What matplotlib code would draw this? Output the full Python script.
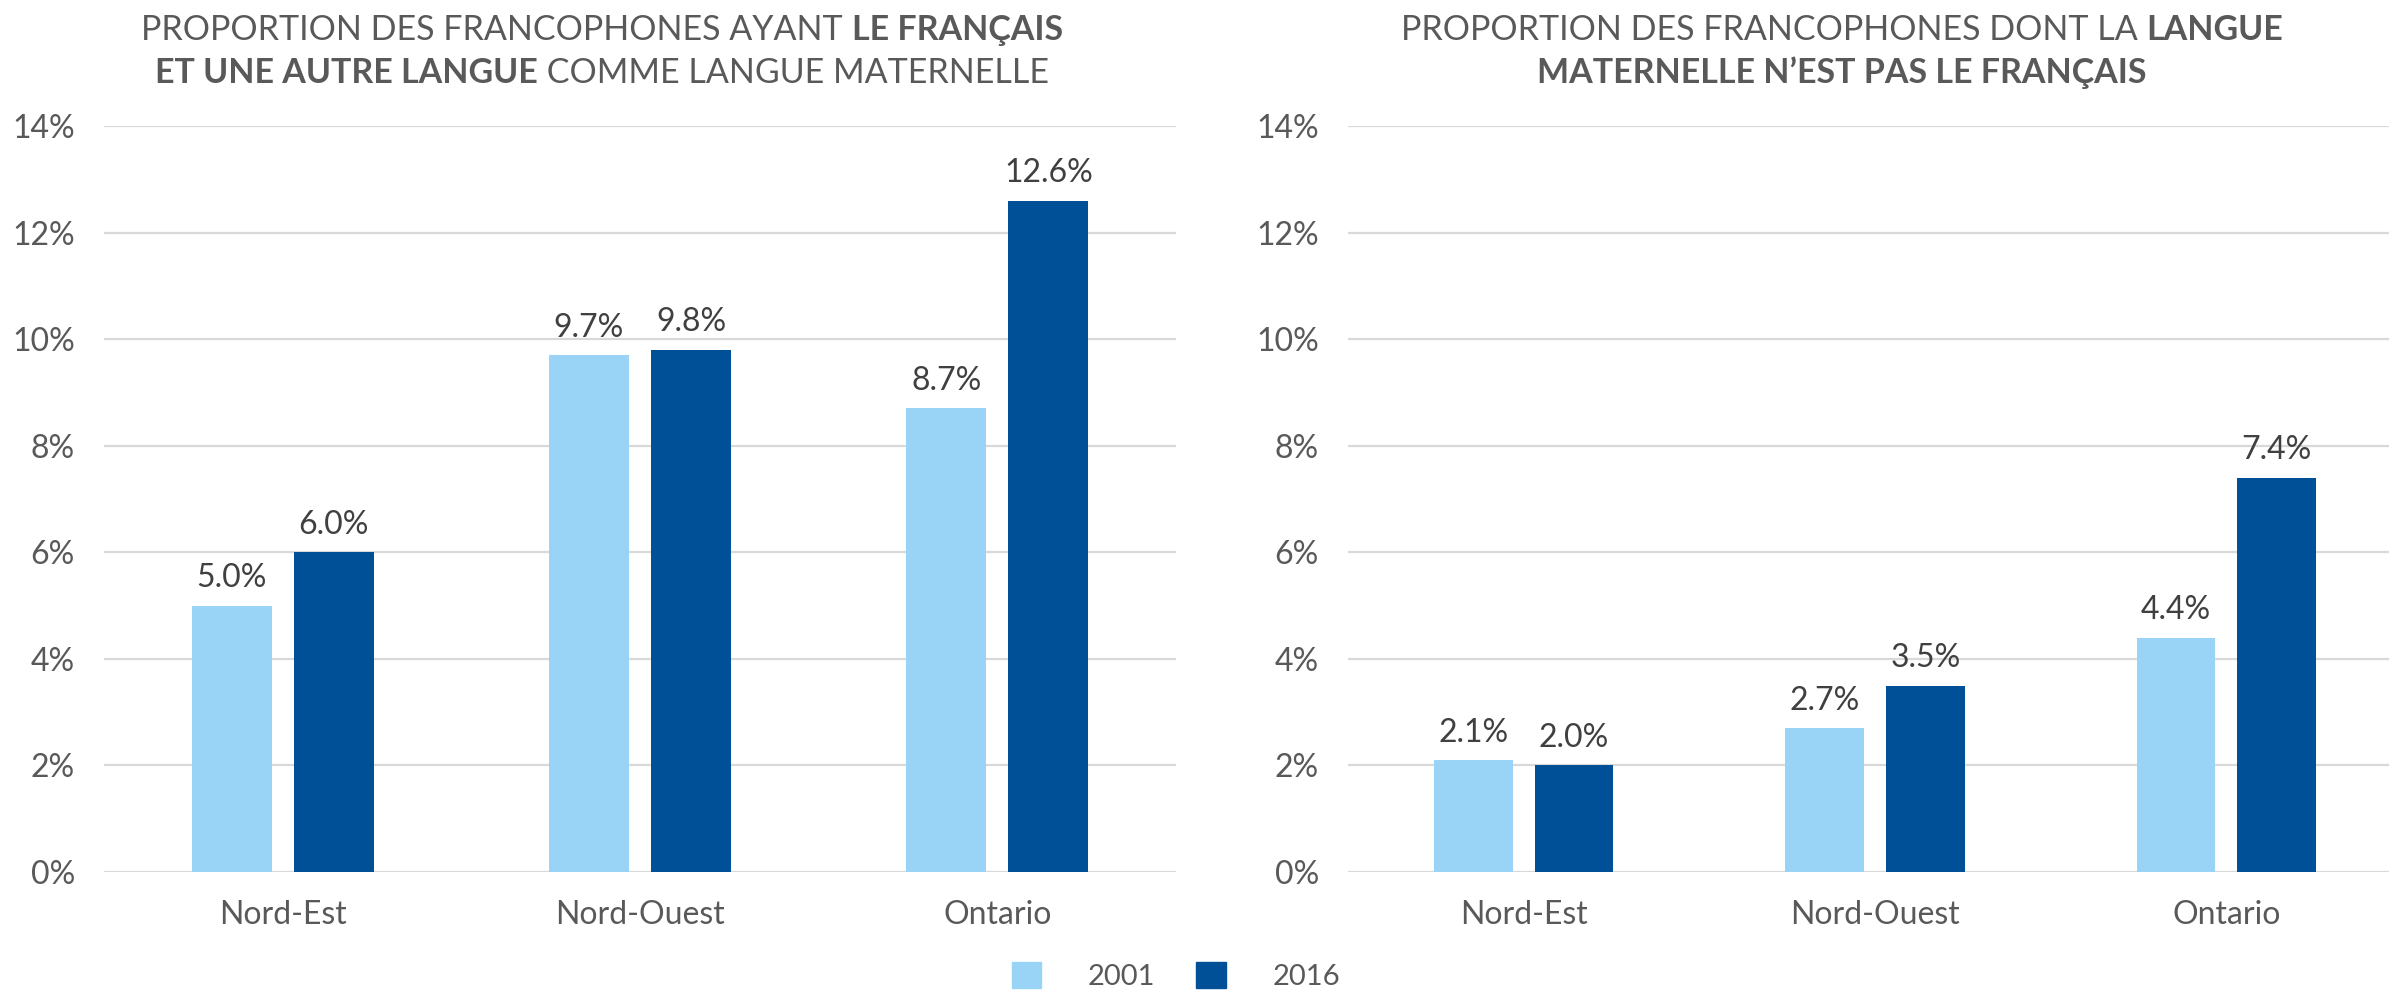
import numpy as np
import matplotlib
matplotlib.use('Agg')
import matplotlib.pyplot as plt
from matplotlib.patches import Patch

plt.rcParams['font.family'] = ['Lato', 'DejaVu Sans']

# Données
regions = ['Nord-Est', 'Nord-Ouest', 'Ontario']
annees = ['2001', '2016']
gauche_2001 = [5.0, 9.7, 8.7]
gauche_2016 = [6.0, 9.8, 12.6]
droite_2001 = [2.1, 2.7, 4.4]
droite_2016 = [2.0, 3.5, 7.4]
yticks = [0, 2, 4, 6, 8, 10, 12, 14]

titre_gauche = [
    [('PROPORTION DES FRANCOPHONES AYANT ', 'normal'), ('LE FRANÇAIS', 'bold')],
    [('ET UNE AUTRE LANGUE', 'bold'), (' COMME LANGUE MATERNELLE', 'normal')],
]
titre_droite = [
    [('PROPORTION DES FRANCOPHONES DONT LA ', 'normal'), ('LANGUE', 'bold')],
    [('MATERNELLE N\u2019EST PAS LE FRANÇAIS', 'bold')],
]

c2001 = '#99D3F5'
c2016 = '#005098'
gris = '#595959'
grille = '#D9D9D9'

W, H = 2389, 992
fig = plt.figure(figsize=(W / 100, H / 100), dpi=100)

ax1 = fig.add_axes([104 / W, 120 / H, 1072 / W, 746 / H])
ax2 = fig.add_axes([1348 / W, 120 / H, 1054 / W, 746 / H])

bw = 0.224
off = 0.143
x = np.arange(len(regions))

for ax, v1, v2 in [(ax1, gauche_2001, gauche_2016), (ax2, droite_2001, droite_2016)]:
    ax.bar(x - off, v1, bw, color=c2001, zorder=3)
    ax.bar(x + off, v2, bw, color=c2016, zorder=3)
    for xi, v in zip(x - off, v1):
        ax.annotate(f'{v:.1f}%', (xi, v), xytext=(0, 9), textcoords='offset points',
                    ha='center', va='bottom', fontsize=23, color='#404040')
    for xi, v in zip(x + off, v2):
        ax.annotate(f'{v:.1f}%', (xi, v), xytext=(0, 9), textcoords='offset points',
                    ha='center', va='bottom', fontsize=23, color='#404040')
    ax.set_xlim(-0.5, 2.5)
    ax.set_ylim(0, 14)
    ax.set_yticks(yticks)
    ax.set_yticklabels([f'{t}%' for t in yticks])
    ax.set_xticks(x)
    ax.set_xticklabels(regions)
    ax.tick_params(axis='y', length=0, pad=21, labelsize=23, labelcolor=gris)
    ax.tick_params(axis='x', length=0, pad=20, labelsize=23, labelcolor=gris)
    ax.yaxis.grid(True, color=grille, linewidth=1.6, zorder=0)
    ax.set_axisbelow(True)
    for s in ax.spines.values():
        s.set_visible(False)

# Titres avec parties en gras
renderer = fig.canvas.get_renderer()


def titre(lignes, xc, ys):
    for ligne, y in zip(lignes, ys):
        morceaux = []
        for txt, poids in ligne:
            t = fig.text(0, y / H, txt, fontsize=24.5, fontweight=poids, color=gris,
                         va='center', ha='left')
            morceaux.append(t)
        largeurs = [t.get_window_extent(renderer).width for t in morceaux]
        x0 = xc - sum(largeurs) / 2
        for t, w in zip(morceaux, largeurs):
            t.set_x(x0 / W)
            x0 += w


titre(titre_gauche, 602, [H - 30, H - 73])
titre(titre_droite, 1842, [H - 30, H - 73])

handles = [Patch(color=c2001, label=annees[0]), Patch(color=c2016, label=annees[1])]
fig.legend(handles=handles, loc='center', bbox_to_anchor=(1176 / W, 16 / H), ncol=2,
           frameon=False, fontsize=21, handlelength=1.0, handleheight=1.0,
           columnspacing=1.4, handletextpad=1.6, labelcolor=gris)

fig.savefig('out.png', dpi=100)
